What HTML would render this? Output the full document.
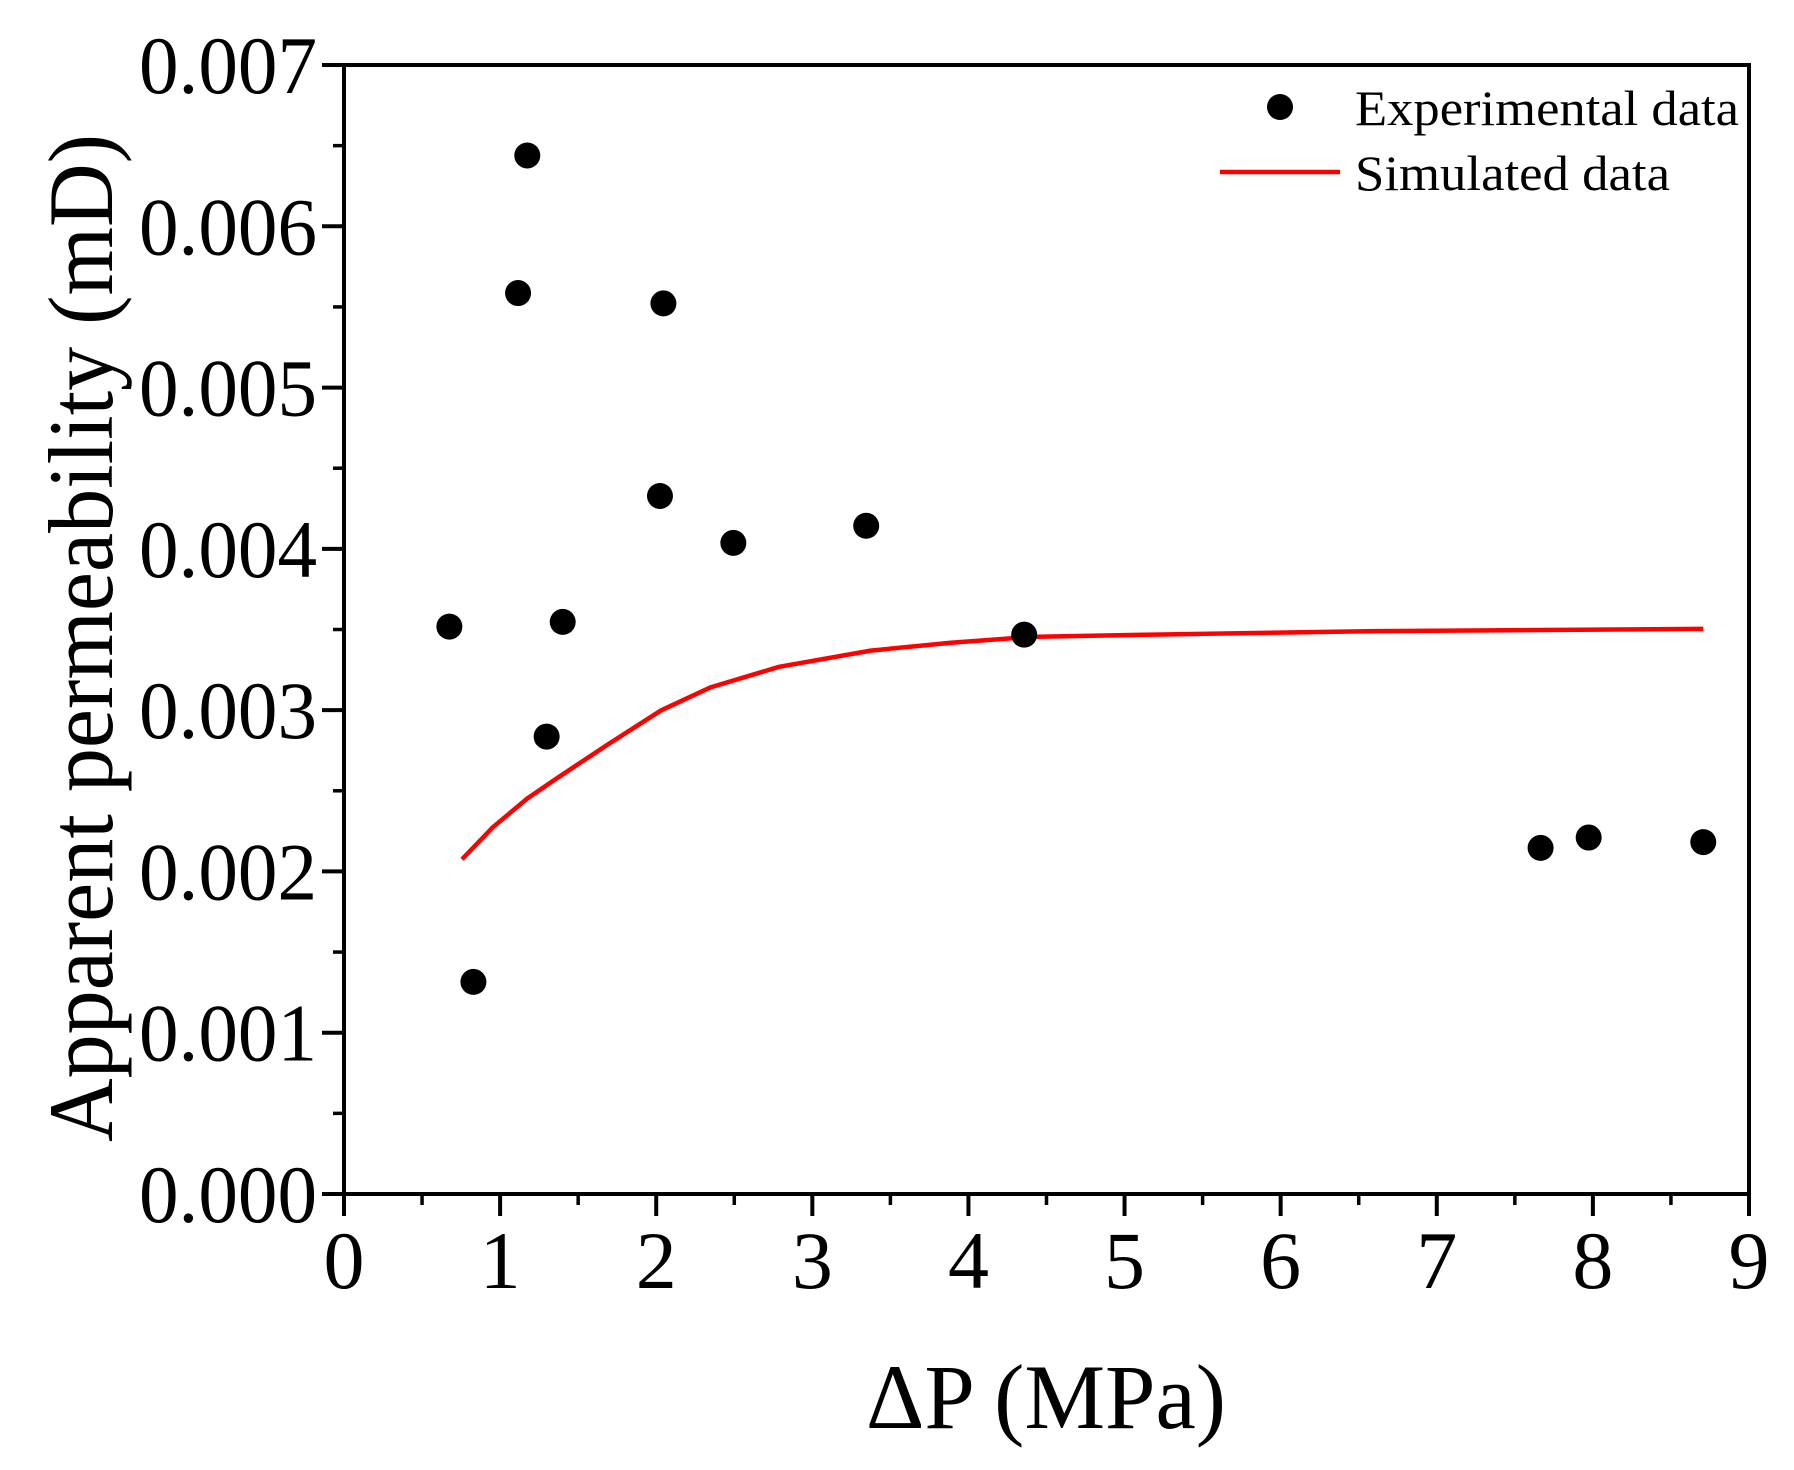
<!DOCTYPE html>
<html><head><meta charset="utf-8"><style>
html,body{margin:0;padding:0;background:#fff}
svg{display:block}
text{font-family:"Liberation Serif",serif;fill:#000}
</style></head><body>
<svg id="chart" width="1794" height="1470" viewBox="0 0 1794 1470" xmlns="http://www.w3.org/2000/svg">
<g id="axes"></g>
<g id="curve"></g>
<g id="points"></g>
<g id="legend">
  <circle cx="1280" cy="107" r="13" fill="#000"/>
  <text x="1355" y="125" font-size="50" textLength="384" lengthAdjust="spacingAndGlyphs">Experimental data</text>
  <line x1="1220" y1="172" x2="1340" y2="172" stroke="#ff0000" stroke-width="4.5"/>
  <text x="1355" y="190" font-size="50" textLength="315" lengthAdjust="spacingAndGlyphs">Simulated data</text>
</g>
<text x="866" y="1428" font-size="92" textLength="360" lengthAdjust="spacingAndGlyphs">ΔP (MPa)</text>
<text transform="translate(112,1142) rotate(-90)" x="0" y="0" font-size="92" textLength="1008" lengthAdjust="spacingAndGlyphs">Apparent permeability (mD)</text>
</svg>
<script>
const expX = [0.675,0.829,1.115,1.174,1.298,1.401,2.024,2.046,2.494,3.345,4.357,7.665,7.973,8.707];
const expY = [0.003518,0.001315,0.005586,0.006439,0.002836,0.003547,0.004328,0.005522,0.004037,0.004143,0.003468,0.002146,0.002210,0.002182];
const simX = [0.756,0.954,1.174,1.357,1.687,2.032,2.347,2.787,3.374,3.888,4.401,5.135,6.602,8.707];
const simY = [0.002075,0.002274,0.002452,0.002573,0.002786,0.002999,0.003141,0.003269,0.003369,0.003418,0.003454,0.003468,0.003490,0.003504];
const xTicks = ['0','1','2','3','4','5','6','7','8','9'];
const yTicks = ['0.000','0.001','0.002','0.003','0.004','0.005','0.006','0.007'];

const X0=344, X1=1749, Y0=1194, Y1=65;
const xs = v => X0 + (v-0)/9*(X1-X0);
const ys = v => Y0 - v/0.007*(Y0-Y1);
const NS='http://www.w3.org/2000/svg';
function mk(tag, attrs, parent){const e=document.createElementNS(NS,tag);for(const k in attrs)e.setAttribute(k,attrs[k]);parent.appendChild(e);return e;}

const axes=document.getElementById('axes');
const frame=mk('rect',{x:X0,y:Y1,width:X1-X0,height:Y0-Y1,fill:'none',stroke:'#000','stroke-width':4},axes);


for(let i=0;i<xTicks.length;i++){
  const x=xs(+xTicks[i]);
  const t=mk('line',{x1:x,y1:Y0,x2:x,y2:Y0+22,stroke:'#000','stroke-width':4},axes);
  
  
  if(i<xTicks.length-1){
    const m=mk('line',{x1:xs(+xTicks[i]+0.5),y1:Y0,x2:xs(+xTicks[i]+0.5),y2:Y0+11,stroke:'#000','stroke-width':3.5},axes);
    
    
  }
  const l=mk('text',{x:x,y:1288,'font-size':82,'text-anchor':'middle'},axes);
  l.textContent=xTicks[i];
  
  
}
for(let i=0;i<yTicks.length;i++){
  const y=ys(+yTicks[i]);
  const t=mk('line',{x1:X0-22,y1:y,x2:X0,y2:y,stroke:'#000','stroke-width':4},axes);
  
  
  if(i<yTicks.length-1){
    const yy=ys(+yTicks[i]+0.0005);
    const m=mk('line',{x1:X0-11,y1:yy,x2:X0,y2:yy,stroke:'#000','stroke-width':3.5},axes);
    
    
  }
  const l=mk('text',{x:317,y:y+28,'font-size':82,'text-anchor':'end',textLength:178,lengthAdjust:'spacingAndGlyphs'},axes);
  l.textContent=yTicks[i];
  
  
}

const curve=document.getElementById('curve');
let d='';
for(let i=0;i<simX.length;i++) d+=(i?'L':'M')+xs(simX[i]).toFixed(1)+','+ys(simY[i]).toFixed(1);
const p=mk('path',{d:d,fill:'none',stroke:'#ff0000','stroke-width':4.5,'stroke-linejoin':'round'},curve);



const pts=document.getElementById('points');
for(let i=0;i<expX.length;i++){
  const c=mk('circle',{cx:xs(expX[i]),cy:ys(expY[i]),r:13,fill:'#000'},pts);
  
  
}
</script>
</body></html>
